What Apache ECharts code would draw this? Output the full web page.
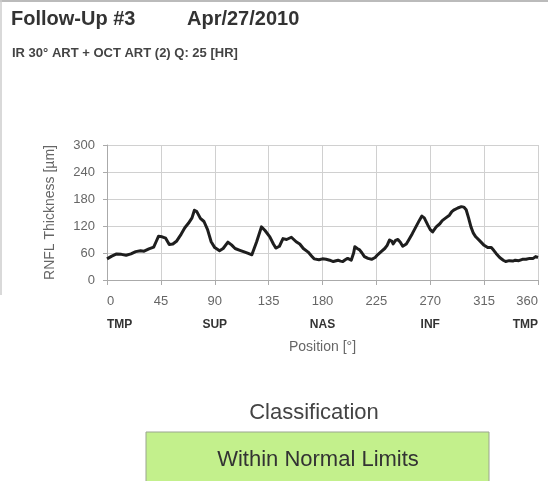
<!DOCTYPE html>
<html>
<head>
<meta charset="utf-8">
<script src="https://cdn.jsdelivr.net/npm/echarts@6/dist/echarts.min.js"></script>
<style>
  html, body { margin: 0; padding: 0; background: #fff; }
  #main { width: 548px; height: 481px; }
</style>
</head>
<body>
<div id="main"></div>
<script>
// RNFL thickness profile: [position deg, thickness um]
var positions = [0,4,8,12,16,20,24,28,31,35,39,41,43,46,49,52,55,58,62,65,68,71,73,75,78,81,84,87,90,94,97,101,104,107,111,114,118,121,125,129,132,136,139,141,144,147,150,154,156,158,161,164,168,171,173,177,180,183,186,189,193,195,197,199,201,204,206,207,209,211,213,215,218,221,224,226,229,232,234,236,238,239,241,243,245,247,250,252,255,258,261,263,265,268,270,272,275,278,280,283,286,288,290,293,296,298,300,302,304,306,308,311,315,318,321,323,325,328,331,333,336,339,341,344,347,350,353,356,358,360];
var thickness = [47,53,58,57,55,58,63,65,64,69,73,85,97,96,93,79,80,86,102,116,126,138,155,152,137,130,112,85,72,65,70,84,78,70,66,63,59,56,85,118,110,96,80,71,75,92,90,95,90,85,80,70,62,53,47,45,47,46,44,41,44,42,41,45,48,44,60,74,70,67,60,52,48,46,50,56,63,70,77,89,86,80,88,90,84,75,80,89,103,118,133,142,138,122,112,107,118,125,132,138,144,152,156,160,163,162,156,138,118,104,96,88,77,72,72,66,59,50,44,41,43,42,44,43,46,46,48,48,52,50];

var xTicks = [0,45,90,135,180,225,270,315,360];
var sectorLabels = {0:'TMP', 90:'SUP', 180:'NAS', 270:'INF', 360:'TMP'};
var yTicks = [0,60,120,180,240,300];

var classTitle = 'Classification';
var classResult = 'Within Normal Limits';

var lineData = positions.map(function(p, i){ return [p, thickness[i]]; });

var chart = echarts.init(document.getElementById('main'));
var option = {
    backgroundColor: '#fff',
    animation: false,
    grid: {
        left: 107,
        right: 10,
        top: 145,
        bottom: 201
    },
    xAxis: {
        type: 'value',
        min: 0,
        max: 360,
        interval: 45,
        name: 'Position [°]',
        nameLocation: 'middle',
        nameGap: 60,
        nameTextStyle: { color: '#666', fontSize: 14, fontFamily: 'Liberation Sans' },
        axisLine: { show: true, lineStyle: { color: '#aaa', width: 1 } },
        axisTick: { show: true, length: 5, lineStyle: { color: '#aaa' } },
        splitLine: { show: true, lineStyle: { color: '#d0d0d0', width: 1 } },
        axisLabel: {
            margin: 10,
            alignMinLabel: 'left',
            alignMaxLabel: 'right',
            formatter: function(v){
                var s = sectorLabels[v];
                return '{n|' + v + '}\n' + (s ? '{s|' + s + '}' : '{s| }');
            },
            rich: {
                n: { color: '#666', fontSize: 13, fontFamily: 'Liberation Sans', lineHeight: 23 },
                s: { color: '#333', fontSize: 12, fontWeight: 'bold', fontFamily: 'Liberation Sans', lineHeight: 23 }
            }
        }
    },
    yAxis: {
        type: 'value',
        min: 0,
        max: 300,
        interval: 60,
        name: 'RNFL Thickness [µm]',
        nameLocation: 'middle',
        nameGap: 50,
        nameRotate: 90,
        nameTextStyle: { color: '#666', fontSize: 14, fontFamily: 'Liberation Sans' },
        axisLine: { show: true, lineStyle: { color: '#aaa', width: 1 } },
        axisTick: { show: true, length: 4, lineStyle: { color: '#aaa' } },
        splitLine: { show: true, lineStyle: { color: '#d0d0d0', width: 1 } },
        axisLabel: { color: '#666', fontSize: 13, fontFamily: 'Liberation Sans', margin: 12 }
    },
    series: [
        {
            name: 'RNFL',
            type: 'line',
            data: lineData,
            showSymbol: false,
            smooth: false,
            lineStyle: { color: '#1e1e1e', width: 3, join: 'round' }
        }
    ],
    graphic: [
        { type: 'line', shape: { x1: 0, y1: 1, x2: 548, y2: 1 }, style: { stroke: '#bbb', lineWidth: 2 } },
        { type: 'line', shape: { x1: 1, y1: 0, x2: 1, y2: 295 }, style: { stroke: '#ccc', lineWidth: 1.5 } },
        { type: 'text', left: 11, top: 9, style: { text: 'Follow-Up #3', fill: '#333', font: 'bold 20px "Liberation Sans"' } },
        { type: 'text', left: 187, top: 9, style: { text: 'Apr/27/2010', fill: '#333', font: 'bold 20px "Liberation Sans"' } },
        { type: 'text', left: 12, top: 47, style: { text: 'IR 30° ART + OCT ART (2) Q: 25 [HR]', fill: '#444', font: 'bold 13px "Liberation Sans"' } },
        { type: 'text', x: 314, y: 413, style: { text: classTitle, fill: '#444', font: '22px "Liberation Sans"', align: 'center', verticalAlign: 'middle' } },
        { type: 'rect', shape: { x: 146, y: 432, width: 343, height: 52 }, style: { fill: '#c3f08c', stroke: '#9aa58f', lineWidth: 1 } },
        { type: 'text', x: 318, y: 460, style: { text: classResult, fill: '#333', font: '22px "Liberation Sans"', align: 'center', verticalAlign: 'middle' } }
    ]
};
chart.setOption(option);
</script>
</body>
</html>
